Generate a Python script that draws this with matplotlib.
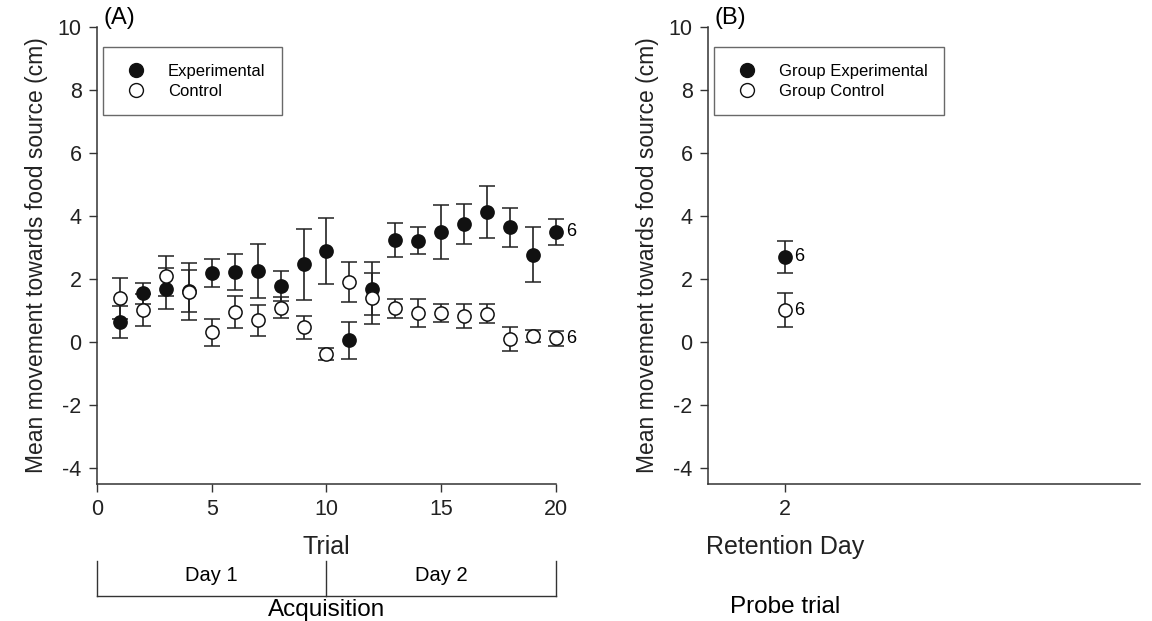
import numpy as np
import matplotlib
matplotlib.use("Agg")
from matplotlib import pyplot as plt
from matplotlib.lines import Line2D
from matplotlib.transforms import blended_transform_factory

plt.rcParams['font.family'] = ['Liberation Sans', 'DejaVu Sans']
plt.rcParams['axes.unicode_minus'] = False

trials = np.arange(1, 21)
exp_mean = [0.64, 1.55, 1.70, 1.62, 2.20, 2.23, 2.25, 1.79, 2.47, 2.90,
            0.06, 1.70, 3.24, 3.22, 3.50, 3.75, 4.14, 3.64, 2.78, 3.50]
exp_err = [0.50, 0.33, 0.64, 0.67, 0.45, 0.56, 0.86, 0.48, 1.12, 1.05,
           0.59, 0.83, 0.54, 0.43, 0.85, 0.63, 0.82, 0.62, 0.86, 0.42]
ctrl_mean = [1.39, 1.02, 2.10, 1.60, 0.31, 0.96, 0.70, 1.10, 0.47, -0.38,
             1.91, 1.39, 1.07, 0.93, 0.93, 0.83, 0.91, 0.10, 0.19, 0.12]
ctrl_err = [0.65, 0.50, 0.64, 0.90, 0.42, 0.51, 0.49, 0.33, 0.37, 0.19,
            0.63, 0.81, 0.30, 0.44, 0.29, 0.37, 0.30, 0.38, 0.20, 0.25]

ret_day = [2]
ret_exp_mean = [2.71]
ret_exp_err = [0.51]
ret_ctrl_mean = [1.02]
ret_ctrl_err = [0.55]
n_label = "6"

fig = plt.figure(figsize=(11.52, 6.21), dpi=100)
ax1 = fig.add_axes([0.0842, 0.2206, 0.3984, 0.7359])
ax2 = fig.add_axes([0.6146, 0.2206, 0.3750, 0.7359])

ekw = dict(ecolor='#222222', elinewidth=1.2, capsize=6, capthick=1.2,
           markersize=9.5, markeredgewidth=1.1, linestyle='none')


def draw(ax, x, y, err, face):
    eb = ax.errorbar(x, y, yerr=err, fmt='o', color='#111111',
                     markerfacecolor=face, markeredgecolor='#111111', **ekw)
    for a in eb.lines[0:1] + eb.lines[1] + eb.lines[2]:
        a.set_clip_on(False)


draw(ax1, trials, exp_mean, exp_err, '#111111')
draw(ax1, trials, ctrl_mean, ctrl_err, 'white')
ax1.text(trials[-1] + 0.45, exp_mean[-1], n_label, va='center', fontsize=13)
ax1.text(trials[-1] + 0.45, ctrl_mean[-1], n_label, va='center', fontsize=13)

draw(ax2, ret_day, ret_exp_mean, ret_exp_err, '#111111')
draw(ax2, ret_day, ret_ctrl_mean, ret_ctrl_err, 'white')
ax2.text(ret_day[0] + 0.12, ret_exp_mean[0], n_label, va='center', fontsize=13)
ax2.text(ret_day[0] + 0.12, ret_ctrl_mean[0], n_label, va='center', fontsize=13)

legend_names = {ax1: ['Experimental', 'Control'],
                ax2: ['Group Experimental', 'Group Control']}

for ax in (ax1, ax2):
    ax.set_ylim(-4.5, 10)
    ax.set_yticks([-4, -2, 0, 2, 4, 6, 8, 10])
    for s in ('top', 'right'):
        ax.spines[s].set_visible(False)
    for s in ('left', 'bottom'):
        ax.spines[s].set_linewidth(1.1)
        ax.spines[s].set_color('#333333')
    ax.tick_params(direction='out', length=6, width=1.0, labelsize=15.5,
                   pad=5, colors='#333333', labelcolor='#222222')
    ax.set_ylabel('Mean movement towards food source (cm)', fontsize=16.5,
                  color='#222222', labelpad=7)
    hs = [Line2D([], [], marker='o', ls='none', markersize=10,
                 markerfacecolor='#111111', markeredgecolor='#111111'),
          Line2D([], [], marker='o', ls='none', markersize=10,
                 markerfacecolor='white', markeredgecolor='#111111')]
    leg = ax.legend(hs, legend_names[ax], loc='upper left',
                    bbox_to_anchor=(0.013, 0.956),
                    frameon=True, fancybox=False, fontsize=12,
                    handletextpad=0.9, borderpad=1.0, labelspacing=0.3,
                    borderaxespad=0, handlelength=2.0)
    leg.get_frame().set_edgecolor('#444444')
    leg.get_frame().set_linewidth(1.0)

ax1.set_xlim(0, 20)
ax1.set_xticks([0, 5, 10, 15, 20])
ax1.set_xlabel('Trial', fontsize=18, color='#222222')
ax1.xaxis.set_label_coords(0.5, -0.112)
ax2.set_xlim(1, 6.6)
ax2.set_xticks([2])
ax2.set_xlabel('Retention Day', fontsize=18, color='#222222')
ax2.xaxis.set_label_coords(0.178, -0.112)

ax1.text(0.015, 1.02, '(A)', transform=ax1.transAxes, fontsize=17,
         va='center', ha='left')
ax2.text(0.015, 1.02, '(B)', transform=ax2.transAxes, fontsize=17,
         va='center', ha='left')

# Day brackets under the trial axis
tr = blended_transform_factory(ax1.transData, fig.transFigure)
y_top, y_bot = 0.0966, 0.0403
for xv in (0, 10, 20):
    ax1.plot([xv, xv], [y_top, y_bot], color='#333333', lw=1.0,
             transform=tr, clip_on=False)
ax1.plot([0, 20], [y_bot, y_bot], color='#333333', lw=1.0,
         transform=tr, clip_on=False)
ax1.text(5, 0.074, 'Day 1', transform=tr, ha='center', va='center', fontsize=14.5)
ax1.text(15, 0.074, 'Day 2', transform=tr, ha='center', va='center', fontsize=14.5)
ax1.text(10, 0.017, 'Acquisition', transform=tr, ha='center', va='center',
         fontsize=17.5)

fig.text(785 / 1152, 0.022, 'Probe trial', ha='center', va='center', fontsize=17.5)

plt.savefig('out.png', dpi=100)
